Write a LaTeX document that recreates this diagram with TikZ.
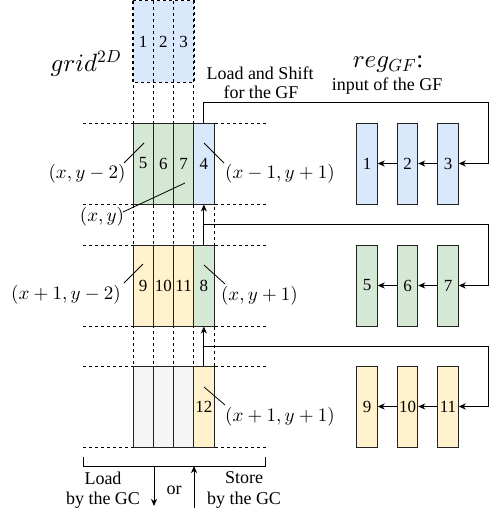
\documentclass[tikz,border=0pt]{standalone}
\usepackage[no-math]{fontspec}
\setmainfont{Liberation Serif}
\DeclareFontFamily{OML}{cmm}{\skewchar\font127}
\DeclareFontShape{OML}{cmm}{m}{it}{<->cmmi10}{}
\DeclareFontShape{OT1}{cmr}{m}{n}{<->cmr10}{}
\DeclareFontShape{OMS}{cmsy}{m}{n}{<->cmsy10}{}
\usetikzlibrary{arrows.meta}
\definecolor{cblue}{HTML}{DAE8FC}
\definecolor{cgreen}{HTML}{D5E8D4}
\definecolor{cyellow}{HTML}{FFF2CC}
\definecolor{cgray}{HTML}{F5F5F5}
\definecolor{cborder}{HTML}{222222}
\tikzset{
  cell/.style={draw=cborder, line width=0.9pt, minimum width=20.25pt, minimum height=81pt, inner sep=0pt, font=\fontsize{17}{20}\selectfont},
  topcell/.style={draw=none, minimum width=20.25pt, minimum height=81pt, inner sep=0pt, fill=cblue, font=\fontsize{17}{20}\selectfont},
  regbox/.style={draw=cborder, line width=0.9pt, minimum width=20.5pt, minimum height=81pt, inner sep=0pt, font=\fontsize{17}{20}\selectfont},
  guide/.style={dash pattern=on 3pt off 3pt, line width=0.8pt},
  arr/.style={-{Stealth[length=7pt,width=6pt,inset=2pt]}, line width=1pt},
  conn/.style={line width=1pt},
  lbl/.style={font=\fontsize{19}{22}\selectfont, inner sep=0pt},
  txt/.style={font=\fontsize{18}{20}\selectfont, inner sep=0pt},
  big/.style={font=\fontsize{25}{28}\selectfont, inner sep=0pt},
  pointer/.style={line width=0.8pt}
}
\begin{document}
\begin{tikzpicture}[x=1pt,y=-1pt]
\useasboundingbox (0,0) rectangle (498,519);
% top block (blue, dashed)
\node[topcell] (t1) at (143.125,41.5) {1};
\node[topcell] (t2) at (163.375,41.5) {2};
\node[topcell] (t3) at (183.625,41.5) {3};
\draw[guide] (t1.north west) rectangle (t3.south east);
% horizontal guides
\foreach \yy in {123,204,245,326,366,447}{
  \draw[guide] (83,\yy) -- (266,\yy);
}
% vertical guides
\foreach \xx in {133,153.25,173.5,193.75}{
  \draw[guide] (\xx,1) -- (\xx,447);
}
\draw[guide] (214,123) -- (214,447);
% row 1
\node[cell, fill=cgreen] (c5) at (143.125,163.5) {5};
\node[cell, fill=cgreen] (c6) at (163.375,163.5) {6};
\node[cell, fill=cgreen] (c7) at (183.625,163.5) {7};
\node[cell, fill=cblue]  (c4) at (203.875,163.5) {4};
% row 2
\node[cell, fill=cyellow] (c9)  at (143.125,285.5) {9};
\node[cell, fill=cyellow] (c10) at (163.375,285.5) {10};
\node[cell, fill=cyellow] (c11) at (183.625,285.5) {11};
\node[cell, fill=cgreen]  (c8)  at (203.875,285.5) {8};
% row 3
\node[cell, fill=cgray] (g1) at (143.125,406.5) {};
\node[cell, fill=cgray] (g2) at (163.375,406.5) {};
\node[cell, fill=cgray] (g3) at (183.625,406.5) {};
\node[cell, fill=cyellow] (c12) at (203.875,406.5) {12};
% registers
\node[regbox, fill=cblue] (r1) at (367,163.5) {1};
\node[regbox, fill=cblue] (r2) at (407.5,163.5) {2};
\node[regbox, fill=cblue] (r3) at (448,163.5) {3};
\node[regbox, fill=cgreen] (r5) at (367,285.5) {5};
\node[regbox, fill=cgreen] (r6) at (407.5,285.5) {6};
\node[regbox, fill=cgreen] (r7) at (448,285.5) {7};
\node[regbox, fill=cyellow] (r9)  at (367,406.5) {9};
\node[regbox, fill=cyellow] (r10) at (407.5,406.5) {10};
\node[regbox, fill=cyellow] (r11) at (448,406.5) {11};
\draw[arr] (r3.west) -- (r2.east);
\draw[arr] (r2.west) -- (r1.east);
\draw[arr] (r7.west) -- (r6.east);
\draw[arr] (r6.west) -- (r5.east);
\draw[arr] (r11.west) -- (r10.east);
\draw[arr] (r10.west) -- (r9.east);
% feed lines
\coordinate (e1) at (488,102);
\coordinate (b2) at (203.875,224);
\coordinate (e2) at (488,224);
\coordinate (b3) at (203.875,346);
\coordinate (e3) at (488,346);
\draw[arr] (c4.north) |- (e1) |- (r3.east);
\draw[arr] (c8.north) -- (c4.south);
\draw[arr] (b2) -- (e2) |- (r7.east);
\draw[arr] (c12.north) -- (c8.south);
\draw[arr] (b3) -- (e3) |- (r11.east);
% labels with pointers
\node[lbl] (l52) at (87,174) {$(x,y-2)$};
\coordinate (p52a) at (144,143); \coordinate (p52b) at (124,163);
\draw[pointer] (p52a) -- (p52b);
\node[lbl] (lxy) at (102,217) {$(x,y)$};
\coordinate (pxya) at (185,183); \coordinate (pxyb) at (123,212);
\draw[pointer] (pxya) -- (pxyb);
\node[lbl] (l4) at (280,174) {$(x-1,y+1)$};
\coordinate (p4a) at (204,143); \coordinate (p4b) at (224,163);
\draw[pointer] (p4a) -- (p4b);
\node[lbl] (l8) at (259.5,296) {$(x,y+1)$};
\coordinate (p8a) at (204,265); \coordinate (p8b) at (225,284);
\draw[pointer] (p8a) -- (p8b);
\node[lbl] (l9) at (66,295) {$(x+1,y-2)$};
\coordinate (p9a) at (143,264); \coordinate (p9b) at (124,283);
\draw[pointer] (p9a) -- (p9b);
\node[lbl] (l12) at (280,417) {$(x+1,y+1)$};
\coordinate (p12a) at (204,387); \coordinate (p12b) at (225,405);
\draw[pointer] (p12a) -- (p12b);
% titles
\node[big] (grid) at (86,63) {$grid^{2D}$};
\node[big] (reg) at (388,64) {$reg_{GF}$:};
\node[txt] (inp) at (387,86) {input of the GF};
\node[txt] (ls1) at (260,73) {Load and Shift};
\node[txt] (ls2) at (261,92) {for the GF};
% bottom bracket
\coordinate (k1) at (83,457); \coordinate (k2) at (83,466);
\coordinate (k3) at (265,466); \coordinate (k4) at (265,457);
\draw[conn] (k1) -- (k2) -- (k3) -- (k4);
\coordinate (d1) at (154,466); \coordinate (d2) at (154,506);
\draw[arr] (d1) -- (d2);
\coordinate (u1) at (194,508); \coordinate (u2) at (194,466);
\draw[arr] (u1) -- (u2);
\node[txt] (ld1) at (103,478) {Load};
\node[txt] (ld2) at (103,500) {by the GC};
\node[txt] (st1) at (244,478) {Store};
\node[txt] (st2) at (244,500) {by the GC};
\node[txt] (or) at (174,490) {or};
\end{tikzpicture}
\end{document}
